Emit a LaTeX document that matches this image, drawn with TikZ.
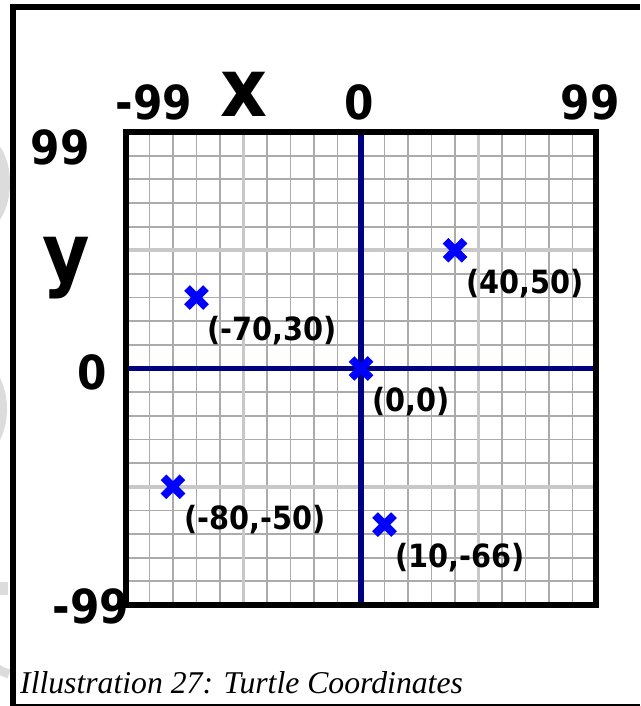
\documentclass[tikz,border=0pt]{standalone}
\usepackage{fontspec}
\setmainfont{Liberation Serif}
\newfontfamily\labfont{DejaVu Sans Bold}[FakeStretch=0.9]
\definecolor{navyc}{HTML}{000080}
\definecolor{crossc}{HTML}{0000FF}
\definecolor{minorc}{HTML}{ABABAB}
\definecolor{majorc}{HTML}{C8C8C8}
\definecolor{wmc}{HTML}{DCDCDC}
\begin{document}
\begin{tikzpicture}[x=1pt,y=-1pt,
  minorline/.style={draw=minorc, line width=1.8pt},
  majorline/.style={draw=majorc, line width=3.6pt},
  axisline/.style={draw=navyc, line width=5.5pt},
  boxframe/.style={draw=black, line width=6pt},
  bigl/.style={font=\labfont\fontsize{47}{47}\selectfont, inner sep=0pt, anchor=base},
  hugel/.style={font=\labfont\fontsize{81}{81}\selectfont, inner sep=0pt, anchor=base},
  ptl/.style={font=\labfont\fontsize{32}{32}\selectfont, inner sep=0pt, anchor=west},
  wm/.style={draw=wmc},
  pics/xmark/.style={code={\draw[crossc, line width=8pt, line cap=butt] (-9.5,-9.5)--(9.5,9.5) (-9.5,9.5)--(9.5,-9.5);}}
]
\useasboundingbox (0,0) rectangle (640,706);
\fill[white] (0,0) rectangle (640,706);
% faint watermark letters at the left edge
\begin{scope}
  \clip (0,0) rectangle (10.5,706);
  \draw[wm, line width=10pt] (-22,183) ellipse [x radius=27, y radius=45];
  \draw[wm, line width=6pt] (-20,180) -- (10,180);
  \draw[wm, line width=10pt] (-25,409) ellipse [x radius=27, y radius=44];
  \fill[wmc] (0,582) rectangle (8,595);
  \draw[wm, line width=9pt] (-12,660) to[bend right=15] (9,674);
\end{scope}
% outer frame
\draw[line width=6pt, line join=miter] (13,706) -- (13,7) -- (640,7);
\draw[line width=1.2pt] (13,705) -- (640,705);
% grid
\foreach \i in {1,...,19} {
  \ifnum\i=10\relax\else
  \draw[minorline] ({126+23.5*\i},132) -- ({126+23.5*\i},605);
  \draw[minorline] (126,{132+23.65*\i}) -- (596,{132+23.65*\i});
  \fi
}
\foreach \i in {5,15} {
  \draw[majorline] ({126+23.5*\i},132) -- ({126+23.5*\i},605);
  \draw[majorline] (126,{132+23.65*\i}) -- (596,{132+23.65*\i});
}
\draw[axisline] (361,132) -- (361,605);
\draw[axisline] (126,368.5) -- (596,368.5);
\draw[boxframe] (126,132) rectangle (596,605);
% axis labels
\node[bigl] (xm) at (154,120) {-99};
\node[hugel] (xl) at (244,117) {x};
\node[bigl] (x0) at (359,120) {0};
\node[bigl] (xp) at (590,120) {99};
\node[bigl] (yp) at (60,164) {99};
\node[hugel] (yl) at (66,281) {y};
\node[bigl] (y0) at (92,389) {0};
\node[bigl] (ym) at (91,623) {-99};
% points
\foreach \tx/\ty/\lbl/\nm in {40/50/{(40,50)}/pa, -70/30/{(-70,30)}/pb, 0/0/{(0,0)}/pc, -80/-50/{(-80,-50)}/pd, 10/-66/{(10,-66)}/pe} {
  \coordinate (\nm) at ({361+2.35*\tx},{368.5-2.365*\ty});
  \pic at (\nm) {xmark};
  \node[ptl] (\nm l) at ([shift={(11,33)}]\nm) {\lbl};
}
% caption
\node[font=\fontsize{31.7}{32}\selectfont\itshape, inner sep=0pt, anchor=base west] (cap) at (20,693) {Illustration 27: Turtle Coordinates};
\end{tikzpicture}
\end{document}
